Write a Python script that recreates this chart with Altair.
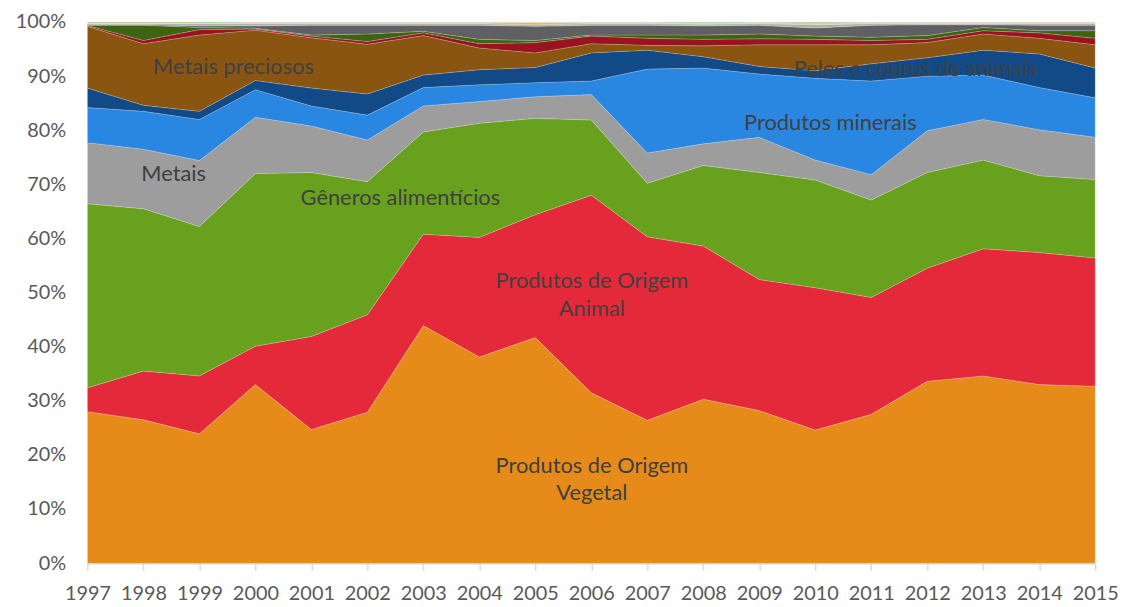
import altair as alt
import pandas as pd

years = list(range(1997, 2016))

series_names = [
    "Produtos de Origem Vegetal",
    "Produtos de Origem Animal",
    "Gêneros alimentícios",
    "Metais",
    "Produtos minerais",
    "Peles e couros de animais",
    "Metais preciosos",
    "Outros 1",
    "Outros 2",
    "Outros 3",
    "Outros 4",
    "Outros 5",
    "Outros 6",
    "Outros 7",
]

series_colors = [
    "#E68B1A", "#E42A3A", "#68A11D", "#9D9D9E", "#2A87E1", "#114A86",
    "#8A5511", "#9A1420", "#3E6412", "#606062", "#AEAEAE", "#F2A65A",
    "#F0A3A3", "#A9D18E",
]

veg = [28.0, 26.5, 23.9, 33.0, 24.7, 27.9, 43.9, 38.1, 41.7, 31.5, 26.4, 30.3, 28.2, 24.6, 27.5, 33.6, 34.6, 33.0, 32.7]
ani = [4.4, 9.0, 10.7, 7.1, 17.2, 18.0, 16.9, 22.1, 22.7, 36.5, 33.9, 28.3, 24.2, 26.3, 21.6, 20.9, 23.5, 24.4, 23.7]
gen = [34.0, 30.0, 27.6, 31.9, 30.3, 24.6, 18.9, 21.1, 17.8, 13.9, 9.9, 14.9, 19.8, 19.9, 18.0, 17.7, 16.4, 14.2, 14.5]
met = [11.3, 11.0, 12.2, 10.4, 8.6, 7.7, 4.8, 4.0, 4.0, 4.7, 5.6, 4.0, 6.5, 3.7, 4.7, 7.7, 7.5, 8.5, 7.8]
mine = [6.5, 7.0, 7.6, 5.1, 3.7, 4.6, 3.4, 3.1, 2.6, 2.5, 15.5, 14.0, 11.7, 15.1, 17.3, 10.1, 8.2, 7.8, 7.3]
pel = [3.6, 1.1, 1.5, 1.7, 3.3, 3.9, 2.3, 2.8, 2.8, 5.2, 3.5, 2.1, 1.4, 1.4, 3.2, 3.4, 4.6, 6.2, 5.5]
pre = [11.4, 11.4, 14.1, 9.3, 9.3, 9.2, 7.3, 4.0, 2.7, 1.7, 0.9, 2.0, 4.0, 4.8, 3.5, 2.8, 3.0, 2.9, 4.3]
oth1 = [0.15, 0.6, 1.0, 0.2, 0.3, 0.5, 0.5, 0.8, 1.9, 1.4, 1.3, 1.2, 1.1, 1.0, 0.8, 0.6, 0.6, 1.0, 1.2]
oth2 = [0.05, 2.8, 0.4, 0.15, 0.2, 1.4, 0.3, 0.8, 0.4, 0.2, 0.6, 0.8, 0.9, 0.6, 0.6, 0.7, 0.6, 0.4, 1.4]
oth3 = [0.1, 0.1, 0.3, 0.45, 1.8, 1.6, 1.1, 2.6, 2.6, 1.8, 1.8, 1.7, 1.6, 1.5, 2.2, 2.0, 0.5, 1.0, 1.0]
oth4 = [0.2, 0.2, 0.4, 0.4, 0.3, 0.3, 0.3, 0.3, 0.3, 0.3, 0.3, 0.3, 0.3, 0.6, 0.3, 0.2, 0.2, 0.3, 0.3]
oth5 = [0.05, 0.05, 0.05, 0.1, 0.1, 0.1, 0.1, 0.1, 0.35, 0.1, 0.1, 0.1, 0.1, 0.1, 0.1, 0.1, 0.1, 0.1, 0.1]
oth6 = [0.05, 0.05, 0.05, 0.1, 0.1, 0.1, 0.1, 0.1, 0.05, 0.1, 0.1, 0.1, 0.1, 0.2, 0.1, 0.1, 0.1, 0.1, 0.1]
oth7 = [0.2, 0.2, 0.2, 0.1, 0.1, 0.1, 0.1, 0.1, 0.1, 0.1, 0.1, 0.2, 0.1, 0.2, 0.1, 0.1, 0.1, 0.1, 0.1]

all_series = [veg, ani, gen, met, mine, pel, pre, oth1, oth2, oth3, oth4, oth5, oth6, oth7]

# annotation labels (text, year position, share position)
label_texts = ["Metais preciosos", "Metais", "Gêneros alimentícios",
               "Produtos de Origem", "Animal", "Produtos minerais",
               "Peles e couros de animais", "Produtos de Origem", "Vegetal"]
label_x = [1999.61, 1998.54, 2002.59, 2006.01, 2006.01, 2010.27, 2011.79, 2006.01, 2006.01]
label_y = [0.916, 0.720, 0.674, 0.522, 0.470, 0.814, 0.913, 0.180, 0.129]

rows = []
for i, (name, vals) in enumerate(zip(series_names, all_series)):
    for yr, v in zip(years, vals):
        rows.append({"ano": yr, "serie": name, "valor": v, "ordem": i})
df = pd.DataFrame(rows)

lab_df = pd.DataFrame({"texto": label_texts, "x": label_x, "y": label_y})

FONT = "Lato"

x_scale = alt.Scale(domain=[1997, 2015], nice=False, zero=False)
y_scale = alt.Scale(domain=[0, 1], nice=False)

areas = alt.Chart(df).mark_area(
    stroke="#ffffff", strokeWidth=0.5, strokeOpacity=0.35
).encode(
    x=alt.X("ano:Q", scale=x_scale,
            axis=alt.Axis(values=years, format="d", title=None,
                          labelFontSize=20, labelColor="#595959", labelFont=FONT,
                          domainColor="#D9D9D9", domainWidth=1.5,
                          tickColor="#D9D9D9", tickSize=7, tickWidth=1.5,
                          labelPadding=14, grid=False, labelFlush=False,
                          labelOverlap=False)),
    y=alt.Y("valor:Q", stack="normalize", scale=y_scale,
            axis=alt.Axis(values=[i / 10 for i in range(11)], format=".0%", title=None,
                          labelFontSize=20, labelColor="#595959", labelFont=FONT,
                          domain=False, ticks=False, grid=False, labelPadding=22)),
    color=alt.Color("serie:N", scale=alt.Scale(domain=series_names, range=series_colors),
                    legend=None),
    order=alt.Order("ordem:Q", sort="ascending"),
)

labels = alt.Chart(lab_df).mark_text(
    font=FONT, fontSize=22, color="#404040", align="center", baseline="middle"
).encode(
    x=alt.X("x:Q", scale=x_scale),
    y=alt.Y("y:Q", scale=y_scale),
    text="texto:N",
)

chart = alt.layer(areas, labels).properties(
    width=1015, height=545,
    autosize=alt.AutoSizeParams(type="none"),
    padding={"left": 80, "top": 12, "right": 27, "bottom": 40},
).configure_view(stroke=None)

chart.save("out.html", embed_options={"renderer": "svg", "actions": False})
